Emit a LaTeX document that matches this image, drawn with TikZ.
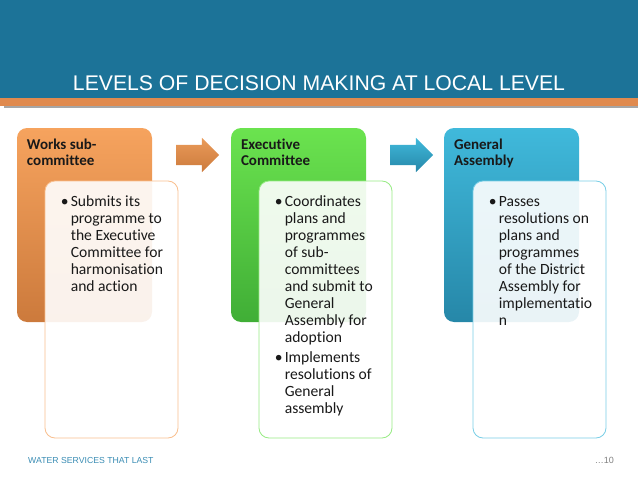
\documentclass[tikz,border=0pt]{standalone}
\usepackage{fontspec}
\setmainfont{Carlito}[Ligatures=NoCommon]
\newfontfamily\headfont{Liberation Sans}
\usetikzlibrary{shapes.arrows}
\definecolor{bandblue}{HTML}{1C7398}
\definecolor{bandorange}{HTML}{E08A4E}
\definecolor{worksA}{HTML}{F6A35E}
\definecolor{worksB}{HTML}{CC7A3C}
\definecolor{execA}{HTML}{6BE34F}
\definecolor{execB}{HTML}{40AE36}
\definecolor{assemA}{HTML}{40B9DB}
\definecolor{assemB}{HTML}{2687A8}
\definecolor{footblue}{HTML}{3B8DB4}
\newcommand{\bul}{\makebox[10pt][l]{\textbullet}}
\newcommand{\ind}{\hspace*{10pt}}
\begin{document}
\begin{tikzpicture}[x=1pt,y=-1pt,
  headbox/.style={rectangle,rounded corners=10pt,minimum width=135pt,minimum height=194pt,inner sep=0pt},
  notebox/.style={rectangle,rounded corners=10pt,minimum width=133pt,minimum height=257pt,fill=white,fill opacity=0.9,line width=0.8pt,inner sep=0pt},
  headtext/.style={anchor=base west,inner sep=0pt,font=\fontsize{15}{15.5}\selectfont\bfseries,text=black!90},
  notetext/.style={anchor=base west,inner sep=0pt,font=\fontsize{15.6}{17}\selectfont,text=black!90},
  blockarrow/.style={single arrow,minimum height=43pt,inner xsep=0pt,inner ysep=10pt,single arrow head extend=7pt}]
\useasboundingbox (0,0) rectangle (638,479);
% header band
\fill[bandblue] (0,0) rectangle (638,98);
\fill[bandorange] (0,98) rectangle (638,106);
\fill[black!35] (4,106) rectangle (638,108);
\node[anchor=base,inner sep=0pt,text=white,font=\headfont\fontsize{21.2}{24}\selectfont] (title) at (319,90.5) {LEVELS OF DECISION MAKING AT LOCAL LEVEL};

% coloured boxes
\node[headbox,top color=worksA,bottom color=worksB] (works) at (84.5,225) {};
\node[headbox,top color=execA,bottom color=execB] (exec) at (298.5,225) {};
\node[headbox,top color=assemA,bottom color=assemB] (assembly) at (511.5,225) {};

\node[headtext] (workshead) at ([xshift=10pt,yshift=-22pt]works.north west) {\begin{tabular}[t]{@{}l@{}}Works sub-\\committee\end{tabular}};
\node[headtext] (exechead) at ([xshift=10pt,yshift=-22pt]exec.north west) {\begin{tabular}[t]{@{}l@{}}Executive\\Committee\end{tabular}};
\node[headtext] (assemblyhead) at ([xshift=10pt,yshift=-22pt]assembly.north west) {\begin{tabular}[t]{@{}l@{}}General\\Assembly\end{tabular}};

% arrows
\node[blockarrow,top color=worksA!95!black,bottom color=worksB] (arrowA) at (192.5,155) {};
\node[blockarrow,top color=assemA,bottom color=assemB] (arrowB) at (406.5,155) {};

% note boxes
\node[notebox,draw=worksA!70] (worksnote) at (111.5,309.5) {};
\node[notebox,draw=execA!70] (execnote) at (325.5,309.5) {};
\node[notebox,draw=assemA!70] (assemblynote) at (539.5,309.5) {};

\node[notetext] (workslist) at ([xshift=16pt,yshift=-26pt]worksnote.north west) {\begin{tabular}[t]{@{}l@{}}
\bul Submits its\\ \ind programme to\\ \ind the Executive\\ \ind Committee for\\ \ind harmonisation\\ \ind and action\end{tabular}};
\node[notetext] (execlist) at ([xshift=16pt,yshift=-26pt]execnote.north west) {\begin{tabular}[t]{@{}l@{}}
\bul Coordinates\\ \ind plans and\\ \ind programmes\\ \ind of sub-\\ \ind committees\\ \ind and submit to\\ \ind General\\ \ind Assembly for\\ \ind adoption\\[3pt]
\bul Implements\\ \ind resolutions of\\ \ind General\\ \ind assembly\end{tabular}};
\node[notetext] (assemblylist) at ([xshift=16pt,yshift=-26pt]assemblynote.north west) {\begin{tabular}[t]{@{}l@{}}
\bul Passes\\ \ind resolutions on\\ \ind plans and\\ \ind programmes\\ \ind of the District\\ \ind Assembly for\\ \ind implementatio\\ \ind n\end{tabular}};

% footer
\node[anchor=base west,inner sep=0pt,text=footblue,font=\headfont\fontsize{8.7}{10}\selectfont] (footer) at (28,463) {WATER SERVICES THAT LAST};
\node[anchor=base east,inner sep=0pt,text=black!50,font=\headfont\fontsize{9}{10}\selectfont] (pagenum) at (614,463) {\ldots10};
\end{tikzpicture}
\end{document}
